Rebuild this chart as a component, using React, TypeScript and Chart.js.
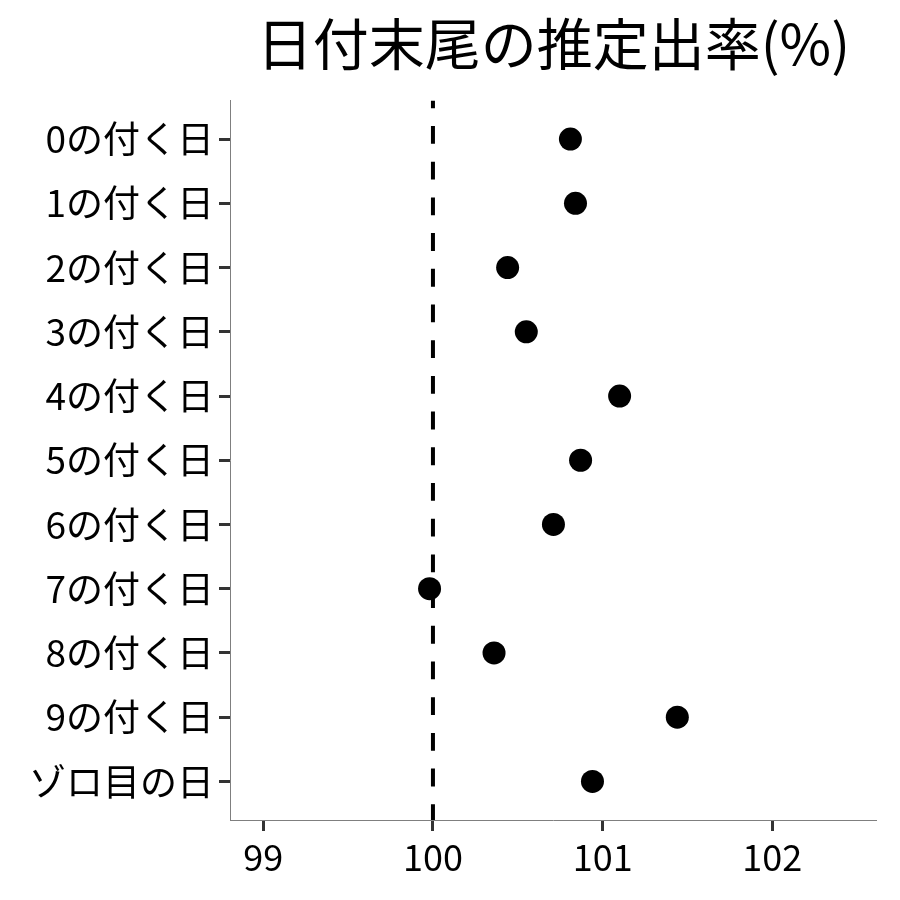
import React, { useEffect, useRef } from "react";
import { Chart, registerables } from "chart.js";

Chart.register(...registerables);

const TITLE = "日付末尾の推定出率(%)";
const CATEGORIES = [
  "0の付く日",
  "1の付く日",
  "2の付く日",
  "3の付く日",
  "4の付く日",
  "5の付く日",
  "6の付く日",
  "7の付く日",
  "8の付く日",
  "9の付く日",
  "ゾロ目の日",
];
const VALUES = [100.81, 100.84, 100.44, 100.55, 101.1, 100.87, 100.71, 99.98, 100.36, 101.44, 100.94];
const X_TICKS = [99, 100, 101, 102];
const REFERENCE = 100;
const X_MIN = 98.804;
const X_MAX = 102.615;
const Y_MIN = 0.4;
const Y_MAX = CATEGORIES.length + 0.6;

const FONT = "'Noto Sans CJK JP', 'Noto Sans', sans-serif";

export default function App() {
  const ref = useRef<HTMLCanvasElement | null>(null);

  useEffect(() => {
    document.body.style.margin = "0";
    const canvas = ref.current;
    if (!canvas) return;
    const points = CATEGORIES.map((_, i) => ({ x: VALUES[i], y: i + 1 }));
    const refLine = [
      { x: REFERENCE, y: Y_MIN },
      { x: REFERENCE, y: Y_MAX },
    ];
    const chart = new Chart(canvas, {
      type: "scatter",
      data: {
        datasets: [
          {
            data: points,
            pointRadius: 11.5,
            pointBackgroundColor: "#000",
            pointBorderWidth: 0,
            backgroundColor: "#000",
            borderColor: "#000",
            showLine: false,
          },
          {
            data: refLine,
            showLine: true,
            borderColor: "#000",
            borderWidth: 4,
            borderDash: [17.85, 17.85],
            borderDashOffset: 10.2,
            pointRadius: 0,
            fill: false,
          },
        ],
      },
      options: {
        responsive: false,
        animation: false,
        layout: { padding: { left: 0, right: 23.3, top: 0, bottom: 0 } },
        plugins: {
          legend: { display: false },
          tooltip: { enabled: false },
          title: {
            display: true,
            text: TITLE,
            fullSize: false,
            color: "#000",
            font: { family: FONT, size: 56, weight: "normal" },
            padding: { top: 10.4, bottom: 22.9 },
          },
        },
        scales: {
          x: {
            type: "linear",
            min: X_MIN,
            max: X_MAX,
            afterBuildTicks: (s: any) => {
              s.ticks = X_TICKS.map((v) => ({ value: v }));
            },
            afterFit: (s: any) => {
              s.height = 80;
            },
            ticks: {
              color: "#000",
              font: { family: FONT, size: 36 },
              padding: 5,
              maxRotation: 0,
              callback: (v: any) => String(v),
            },
            grid: {
              drawOnChartArea: false,
              drawTicks: true,
              tickLength: 11,
              tickWidth: 3,
              tickColor: "#333",
            },
            border: { display: true, color: "#7f7f7f", width: 1 },
          },
          y: {
            type: "linear",
            min: Y_MIN,
            max: Y_MAX,
            reverse: true,
            afterBuildTicks: (s: any) => {
              s.ticks = CATEGORIES.map((_, i) => ({ value: i + 1 }));
            },
            afterFit: (s: any) => {
              s.width = 230;
            },
            ticks: {
              color: "#000",
              font: { family: FONT, size: 37 },
              padding: 5,
              callback: (v: any) => CATEGORIES[Math.round(v) - 1] ?? "",
            },
            grid: {
              drawOnChartArea: false,
              drawTicks: true,
              tickLength: 11,
              tickWidth: 3,
              tickColor: "#333",
            },
            border: { display: true, color: "#7f7f7f", width: 1 },
          },
        },
      },
    });
    return () => chart.destroy();
  }, []);

  return (
    <div style={{ position: "absolute", left: 0, top: 0, width: 900, height: 900, background: "#fff" }}>
      <canvas ref={ref} width={900} height={900} />
    </div>
  );
}
